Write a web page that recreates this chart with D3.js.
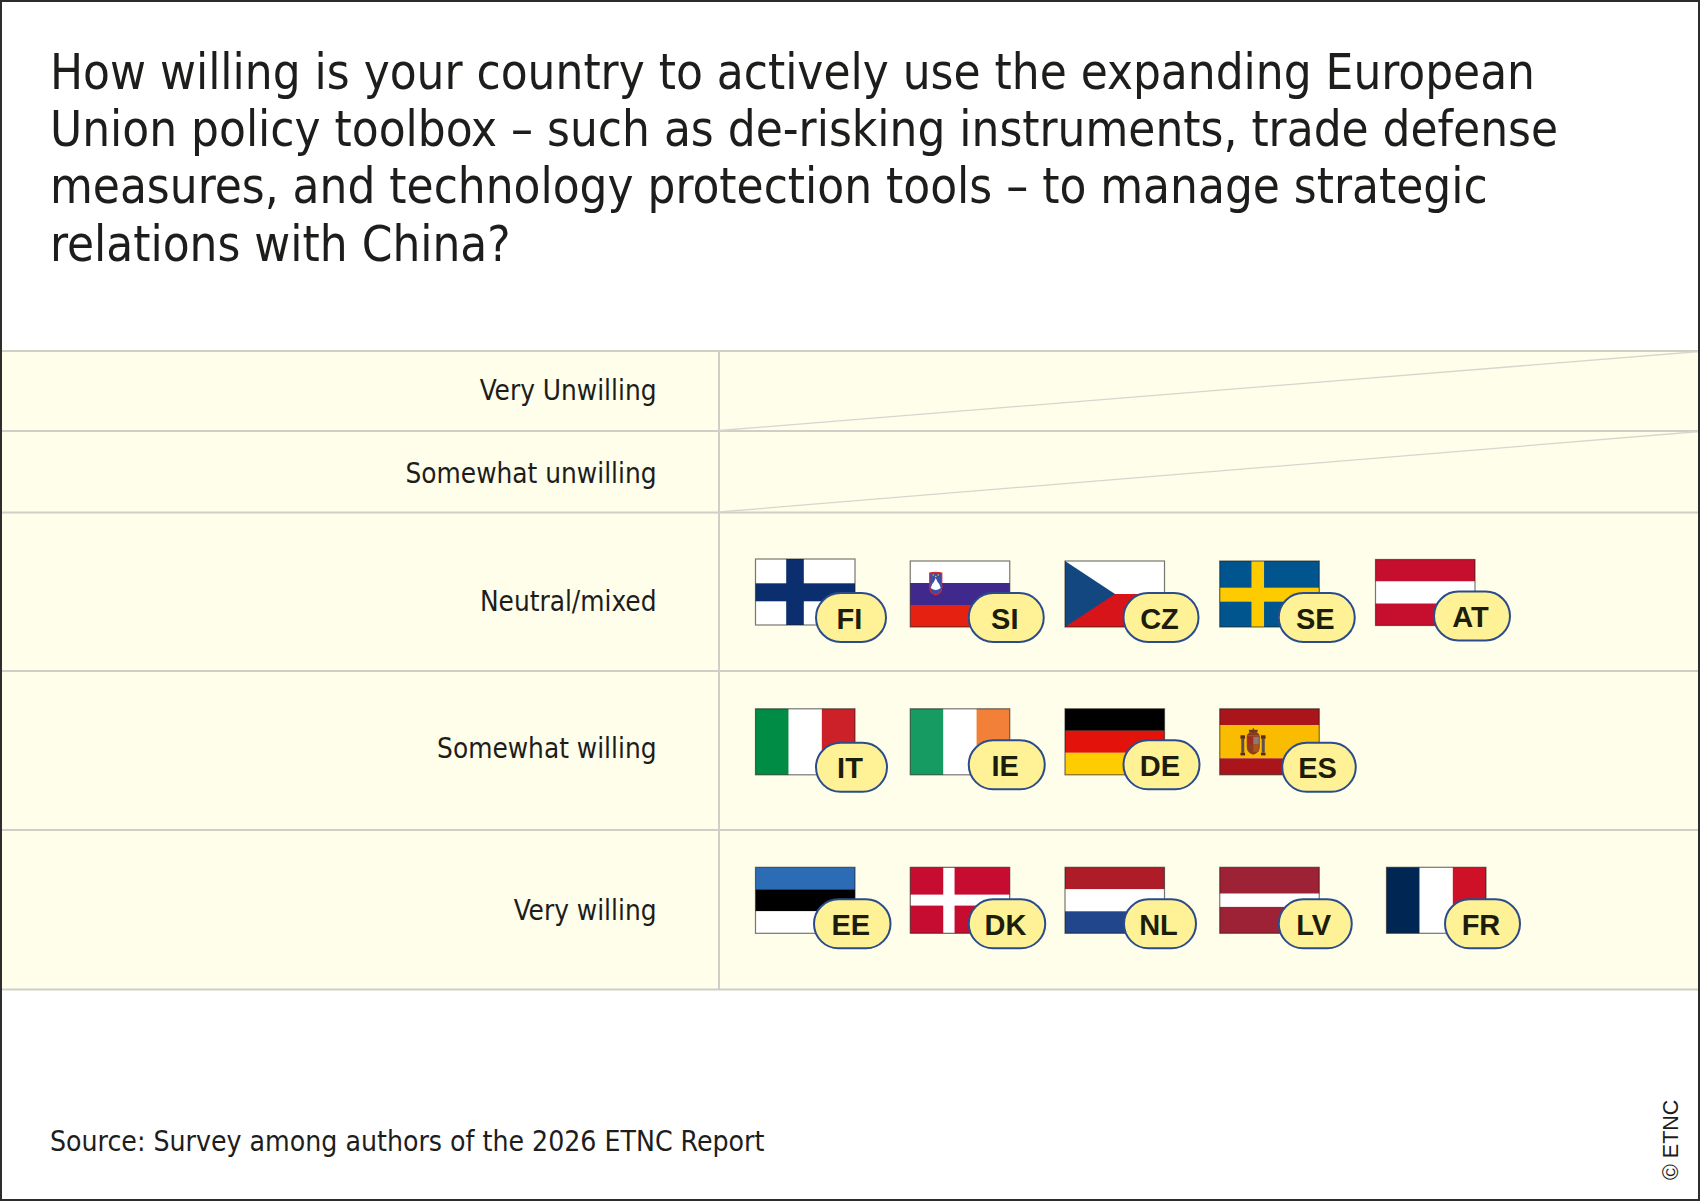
<!DOCTYPE html>
<html><head><meta charset="utf-8">
<script src="https://cdn.jsdelivr.net/npm/d3@7"></script>
<style>html,body{margin:0;padding:0;background:#fff}svg{display:block}</style>
</head><body>
<svg id="c" width="1700" height="1201"></svg>
<script>
const titleLines = [
  "How willing is your country to actively use the expanding European",
  "Union policy toolbox – such as de-risking instruments, trade defense",
  "measures, and technology protection tools – to manage strategic",
  "relations with China?"
];
const sourceText = "Source: Survey among authors of the 2026 ETNC Report";
const copyrightText = "© ETNC";
const categories = ["Very Unwilling","Somewhat unwilling","Neutral/mixed","Somewhat willing","Very willing"];
const neutralMixed = ["FI","SI","CZ","SE","AT"];
const somewhatWilling = ["IT","IE","DE","ES"];
const veryWilling = ["EE","DK","NL","LV","FR"];
const countriesByCategory = [[],[],neutralMixed,somewhatWilling,veryWilling];

// Flag artwork (unit geometry, 100 x 66)
const flagArt = {
  FI:{h:[["#fff",1]],cross:["#0b2f6e",30.7,17.6,24.3,18]},
  SI:{h:[["#fff",1],["#40298c",1],["#e52212",1]],arms:"si"},
  CZ:{h:[["#fff",1],["#d7141a",1]],tri:"#12477f"},
  SE:{h:[["#00558f",1]],cross:["#fecb00",31.7,12.6,26.7,14]},
  AT:{h:[["#c60f2e",1],["#fff",1],["#c60f2e",1]]},
  IT:{v:[["#008c45",1],["#fff",1],["#cd212a",1]]},
  IE:{v:[["#169b62",1],["#fff",1],["#f28039",1]]},
  DE:{h:[["#000",1],["#e3120b",1],["#ffcc00",1]]},
  ES:{h:[["#aa151b",1],["#f9bc00",2],["#aa151b",1]],arms:"es"},
  EE:{h:[["#2b6cb4",1],["#000",1],["#fff",1]]},
  DK:{h:[["#c60c30",1]],cross:["#fff",33,11.3,27.3,11]},
  NL:{h:[["#ae1c28",1],["#fff",1],["#21468b",1]]},
  LV:{h:[["#9e2235",2],["#fff",1],["#9e2235",2]]},
  FR:{v:[["#002654",1],["#fff",1],["#ce1126",1]]}
};
// small hand placement of each flag/badge in the layout: [nudgeX, nudgeY, badgeDx, badgeDy, badgeWidth]
const placement = {
  FI:[0,-2,60.5,34,70], SI:[0,0,58.5,32,75], CZ:[0,0,58.5,32,75], SE:[0,0,59,32,76], AT:[1,-1.5,58.5,32,76],
  IT:[0,0,60.5,34,71], IE:[0,0,58.5,31.5,76], DE:[0,0,58.5,31.5,76], ES:[0,0,62.5,34,73.5],
  EE:[0,0,58.5,32,76.5], DK:[0,0,58.5,32,76.5], NL:[0,0,59,32,72], LV:[0,0,59,32,73], FR:[12,0,58.5,32,75]
};

const W=1700,H=1201, flagW=99.5, flagH=66, badgeH=49;
const panelBg="#fffeeb", grid="#cfcfc8";
const svg=d3.select("#c");
const bodyFont="'DejaVu Sans Condensed','DejaVu Sans',sans-serif";

// row edges for the five ordinal answers
const edges=[351,431,512.5,671,830,989.5];
const rowTop=d3.scaleOrdinal().domain(categories).range(edges.slice(0,5));
const rowBottom=d3.scaleOrdinal().domain(categories).range(edges.slice(1));
const colX=d3.scaleLinear().domain([0,4]).range([755.5,1374.5]);
const rowFlagTop=d3.scaleOrdinal().domain(categories).range([0,0,561,708.8,867.3]);
const divX=719;

// panel
svg.append("rect").attr("x",0).attr("y",edges[0]).attr("width",W).attr("height",edges[5]-edges[0]).attr("fill",panelBg);
svg.selectAll("line.h").data(edges).join("line").attr("class","h")
  .attr("x1",0).attr("x2",W).attr("y1",d=>d).attr("y2",d=>d).attr("stroke",grid).attr("stroke-width",2);
svg.append("line").attr("x1",divX).attr("x2",divX).attr("y1",edges[0]).attr("y2",edges[5]).attr("stroke",grid).attr("stroke-width",2);
// struck-through empty rows
svg.selectAll("line.d").data(categories.filter((c,i)=>countriesByCategory[i].length===0)).join("line").attr("class","d")
  .attr("x1",divX).attr("x2",W).attr("y1",d=>rowBottom(d)-0.5).attr("y2",d=>rowTop(d)+0.5)
  .attr("stroke","#d6d6cf").attr("stroke-width",1.3);

// row labels
const labelY={ "Very Unwilling":400,"Somewhat unwilling":482.5,"Neutral/mixed":611,"Somewhat willing":758,"Very willing":920};
svg.selectAll("text.r").data(categories).join("text").attr("class","r")
  .attr("x",656.5).attr("y",d=>labelY[d]).attr("text-anchor","end")
  .attr("font-family",bodyFont).attr("font-size",27.7).attr("fill","#1d1d1b").text(d=>d);

// title
svg.append("g").selectAll("text").data(titleLines).join("text")
  .attr("x",50).attr("y",(d,i)=>89+i*57.2)
  .attr("font-family",bodyFont).attr("font-size",48.9).attr("fill","#1d1d1b").text(d=>d);
// source
svg.append("text").attr("x",50).attr("y",1151).attr("font-family",bodyFont).attr("font-size",28.15).attr("fill","#1d1d1b").text(sourceText);
// copyright
svg.append("text").attr("transform","translate(1678,1180) rotate(-90)")
  .attr("font-family","'Liberation Sans',Arial,sans-serif").attr("font-size",21.5).attr("fill","#1d1d1b").text(copyrightText);

function drawFlag(g,a){
  const stack=(list,dir)=>{
    const total=d3.sum(list,d=>d[1]);
    const s=d3.scaleLinear().domain([0,total]).range([0,dir==="h"?flagH:flagW]);
    let acc=0;
    list.forEach(([col,w])=>{
      const r=g.append("rect").attr("fill",col);
      if(dir==="h") r.attr("x",0).attr("y",s(acc)).attr("width",flagW).attr("height",s(w));
      else r.attr("x",s(acc)).attr("y",0).attr("width",s(w)).attr("height",flagH);
      acc+=w;
    });
  };
  if(a.h) stack(a.h,"h");
  if(a.v) stack(a.v,"v");
  if(a.tri) g.append("path").attr("d",d3.line()([[0,0],[50,33]])+"L0 "+flagH+"Z").attr("fill",a.tri);
  if(a.cross){
    const [c,x,w,y,h]=a.cross;
    g.append("rect").attr("x",x).attr("y",0).attr("width",w).attr("height",flagH).attr("fill",c);
    g.append("rect").attr("x",0).attr("y",y).attr("width",flagW).attr("height",h).attr("fill",c);
  }
  if(a.arms==="si"){
    g.append("path").attr("d","M19.5 12 Q25 10.5 31.5 12 L31.5 27 Q31.5 32 25.5 34 Q19.5 32 19.5 27Z").attr("fill","#3b4ea8").attr("stroke","#d9232e").attr("stroke-width",1.2);
    g.append("path").attr("d","M20.5 27 L22 23 Q24 21 25.5 17 Q27 21 29 23 L30.5 27 Q25.5 31 20.5 27Z").attr("fill","#fff");
    g.append("path").attr("d","M21 28 Q25.5 31 30 28 L29 30 Q25.5 32.5 22 30Z").attr("fill","#3b4ea8");
    [[23,14],[28,14],[25.5,15.5]].forEach(p=>g.append("circle").attr("cx",p[0]).attr("cy",p[1]).attr("r",.8).attr("fill","#f5c400"));
  }
  if(a.arms==="es"){
    // crown and shield, with pillars
    g.append("path").attr("d","M27 27 q1 -4 6.5 -3.5 q5.5 -.5 6.5 3.5Z").attr("fill","#8a3a1c");
    g.append("path").attr("d","M29.5 24 l-.5 -3 h9 l-.5 3Z").attr("fill","#6b3a20");
    g.append("rect").attr("x",33).attr("y",19.5).attr("width",1.2).attr("height",2).attr("fill","#5b2a1a");
    g.append("path").attr("d","M27 27 h13 v11 q0 6 -6.5 8 q-6.5 -2 -6.5 -8Z").attr("fill","#8f3d20");
    g.append("rect").attr("x",28).attr("y",28).attr("width",5.5).attr("height",7.5).attr("fill","#a8281c");
    g.append("rect").attr("x",33.5).attr("y",28).attr("width",5.5).attr("height",7.5).attr("fill","#8a7a7a");
    g.append("rect").attr("x",33.5).attr("y",35.5).attr("width",5.5).attr("height",7.5).attr("fill","#a8561c");
    [[21.5,30],[42,30]].forEach(p=>{
      g.append("rect").attr("x",p[0]).attr("y",p[1]).attr("width",3).attr("height",14).attr("fill","#5e5050");
      g.append("rect").attr("x",p[0]-.8).attr("y",p[1]-3.5).attr("width",4.6).attr("height",3.5).attr("fill","#5b2a1a");
      g.append("rect").attr("x",p[0]-.8).attr("y",p[1]+14).attr("width",4.6).attr("height",2.6).attr("fill","#5b2a1a");
    });
  }
  g.append("rect").attr("x",0).attr("y",0).attr("width",flagW).attr("height",flagH)
    .attr("fill","none").attr("stroke","#1d1d1b").attr("stroke-opacity",.6).attr("stroke-width",1.2);
}

const placed=categories.flatMap((c,i)=>countriesByCategory[i].map((code,j)=>({c,code,j})));
const flags=svg.selectAll("g.flag").data(placed).join("g").attr("class","flag")
  .attr("transform",d=>`translate(${colX(d.j)+placement[d.code][0]},${rowFlagTop(d.c)+placement[d.code][1]})`);
flags.each(function(d){drawFlag(d3.select(this),flagArt[d.code]);});
flags.append("rect")
  .attr("x",d=>placement[d.code][2]).attr("y",d=>placement[d.code][3])
  .attr("width",d=>placement[d.code][4]).attr("height",badgeH).attr("rx",24.5).attr("ry",24.5)
  .attr("fill","#fff296").attr("stroke","#2b4c8c").attr("stroke-width",2);
flags.append("text")
  .attr("x",d=>placement[d.code][2]+placement[d.code][4]/2-1.5).attr("y",d=>placement[d.code][3]+35.5)
  .attr("text-anchor","middle").attr("font-family","'Liberation Sans',Arial,sans-serif")
  .attr("font-weight",700).attr("font-size",29).attr("fill","#1d1d0b").text(d=>d.code);

// outer frame
svg.append("rect").attr("x",1).attr("y",1).attr("width",W-2).attr("height",H-2).attr("fill","none").attr("stroke","#2d2d2d").attr("stroke-width",2);
</script>
</body></html>
